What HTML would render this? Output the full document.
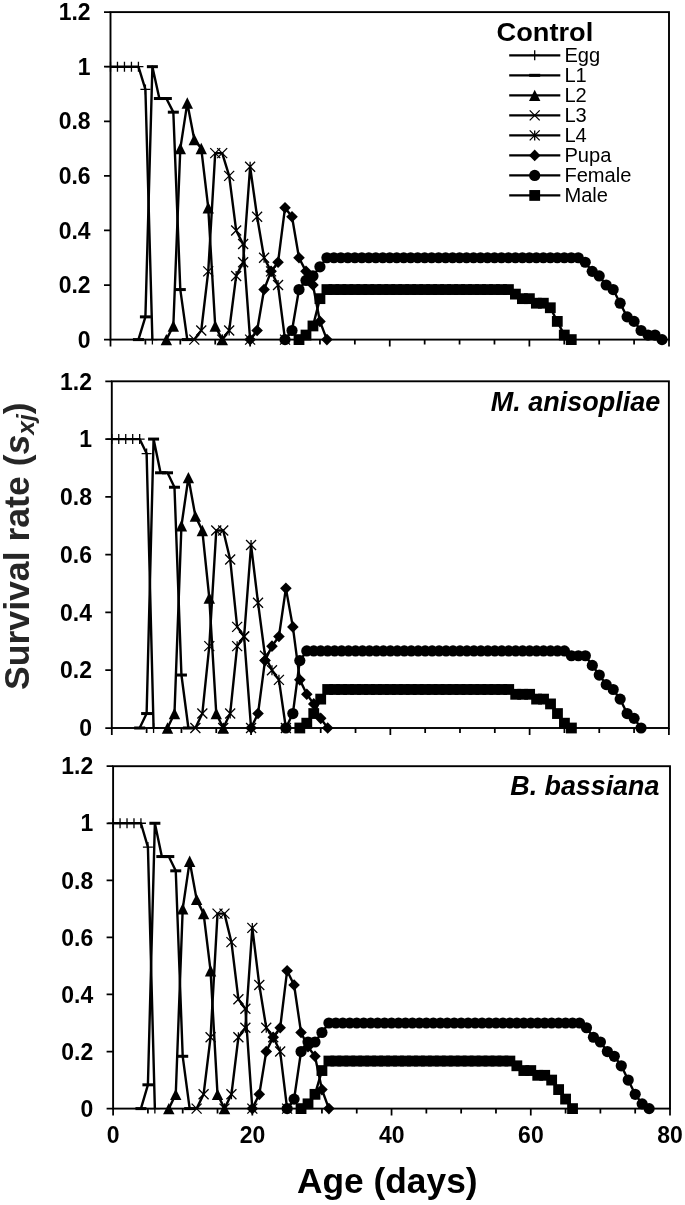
<!DOCTYPE html>
<html lang="en"><head><meta charset="utf-8"><title>Survival rate</title>
<style>html,body{margin:0;padding:0;background:#fff}svg{display:block;will-change:transform}</style></head>
<body>
<svg width="685" height="1205" viewBox="0 0 685 1205" font-family="'Liberation Sans', sans-serif" fill="#000">
<rect width="685" height="1205" fill="#fff"/>
<g><rect x="110.5" y="12.1" width="558.5" height="327.5" fill="none" stroke="#000" stroke-width="1.9"/>
<text transform="translate(90.6 347.8) scale(1.02 1.085)" font-size="22.5" font-weight="bold" text-anchor="end">0</text>
<text transform="translate(90.6 293.22) scale(1.02 1.085)" font-size="22.5" font-weight="bold" text-anchor="end">0.2</text>
<text transform="translate(90.6 238.63) scale(1.02 1.085)" font-size="22.5" font-weight="bold" text-anchor="end">0.4</text>
<text transform="translate(90.6 184.05) scale(1.02 1.085)" font-size="22.5" font-weight="bold" text-anchor="end">0.6</text>
<text transform="translate(90.6 129.47) scale(1.02 1.085)" font-size="22.5" font-weight="bold" text-anchor="end">0.8</text>
<text transform="translate(90.6 74.88) scale(1.02 1.085)" font-size="22.5" font-weight="bold" text-anchor="end">1</text>
<text transform="translate(90.6 20.3) scale(1.02 1.085)" font-size="22.5" font-weight="bold" text-anchor="end">1.2</text>
<path d="M104 339.6H110.5M104 285.02H110.5M104 230.43H110.5M104 175.85H110.5M104 121.27H110.5M104 66.68H110.5M104 12.1H110.5M110.5 339.6V346.6M145.41 339.6V344.6M180.31 339.6V344.6M215.22 339.6V344.6M250.12 339.6V346.6M285.03 339.6V344.6M319.94 339.6V344.6M354.84 339.6V344.6M389.75 339.6V346.6M424.66 339.6V344.6M459.56 339.6V344.6M494.47 339.6V344.6M529.38 339.6V346.6M564.28 339.6V344.6M599.19 339.6V344.6M634.09 339.6V344.6M669 339.6V346.6" stroke="#000" stroke-width="1.75" fill="none"/>
<polyline points="110.5,66.68 117.48,66.68 124.46,66.68 131.44,66.68 138.43,66.68 145.41,89.43 152.39,339.6" fill="none" stroke="#000" stroke-width="2.4" stroke-linejoin="round"/>
<path d="M105.5 66.68H115.5M110.5 61.68V71.68" stroke="#000" stroke-width="1.3" fill="none"/><path d="M112.48 66.68H122.48M117.48 61.68V71.68" stroke="#000" stroke-width="1.3" fill="none"/><path d="M119.46 66.68H129.46M124.46 61.68V71.68" stroke="#000" stroke-width="1.3" fill="none"/><path d="M126.44 66.68H136.44M131.44 61.68V71.68" stroke="#000" stroke-width="1.3" fill="none"/><path d="M133.43 66.68H143.43M138.43 61.68V71.68" stroke="#000" stroke-width="1.3" fill="none"/><path d="M140.41 89.43H150.41M145.41 84.43V94.43" stroke="#000" stroke-width="1.3" fill="none"/><path d="M147.39 339.6H157.39M152.39 334.6V344.6" stroke="#000" stroke-width="1.3" fill="none"/>
<polyline points="138.43,339.6 145.41,316.86 152.39,66.68 159.37,98.52 166.35,98.52 173.33,112.17 180.31,289.57 187.29,339.6" fill="none" stroke="#000" stroke-width="2.4" stroke-linejoin="round"/>
<rect x="132.93" y="338.1" width="11" height="3" fill="#000"/><rect x="139.91" y="315.36" width="11" height="3" fill="#000"/><rect x="146.89" y="65.18" width="11" height="3" fill="#000"/><rect x="153.87" y="97.02" width="11" height="3" fill="#000"/><rect x="160.85" y="97.02" width="11" height="3" fill="#000"/><rect x="167.83" y="110.67" width="11" height="3" fill="#000"/><rect x="174.81" y="288.07" width="11" height="3" fill="#000"/><rect x="181.79" y="338.1" width="11" height="3" fill="#000"/>
<polyline points="166.35,339.6 173.33,325.95 180.31,148.56 187.29,103.07 194.28,139.46 201.26,148.56 208.24,207.69 215.22,325.95 222.2,339.6" fill="none" stroke="#000" stroke-width="2.4" stroke-linejoin="round"/>
<path d="M166.35 333.9L172.05 345.3H160.65Z" fill="#000"/><path d="M173.33 320.25L179.03 331.65H167.63Z" fill="#000"/><path d="M180.31 142.86L186.01 154.26H174.61Z" fill="#000"/><path d="M187.29 97.37L192.99 108.77H181.59Z" fill="#000"/><path d="M194.28 133.76L199.97 145.16H188.58Z" fill="#000"/><path d="M201.26 142.86L206.96 154.26H195.56Z" fill="#000"/><path d="M208.24 201.99L213.94 213.39H202.54Z" fill="#000"/><path d="M215.22 320.25L220.92 331.65H209.52Z" fill="#000"/><path d="M222.2 333.9L227.9 345.3H216.5Z" fill="#000"/>
<polyline points="194.28,339.6 201.26,330.5 208.24,271.37 215.22,153.11 222.2,153.11 229.18,175.85 236.16,230.43 243.14,244.08 250.12,339.6" fill="none" stroke="#000" stroke-width="2.4" stroke-linejoin="round"/>
<path d="M189.28 334.6L199.28 344.6M189.28 344.6L199.28 334.6" stroke="#000" stroke-width="1.3" fill="none"/><path d="M196.26 325.5L206.26 335.5M196.26 335.5L206.26 325.5" stroke="#000" stroke-width="1.3" fill="none"/><path d="M203.24 266.37L213.24 276.37M203.24 276.37L213.24 266.37" stroke="#000" stroke-width="1.3" fill="none"/><path d="M210.22 148.11L220.22 158.11M210.22 158.11L220.22 148.11" stroke="#000" stroke-width="1.3" fill="none"/><path d="M217.2 148.11L227.2 158.11M217.2 158.11L227.2 148.11" stroke="#000" stroke-width="1.3" fill="none"/><path d="M224.18 170.85L234.18 180.85M224.18 180.85L234.18 170.85" stroke="#000" stroke-width="1.3" fill="none"/><path d="M231.16 225.43L241.16 235.43M231.16 235.43L241.16 225.43" stroke="#000" stroke-width="1.3" fill="none"/><path d="M238.14 239.08L248.14 249.08M238.14 249.08L248.14 239.08" stroke="#000" stroke-width="1.3" fill="none"/><path d="M245.12 334.6L255.12 344.6M245.12 344.6L255.12 334.6" stroke="#000" stroke-width="1.3" fill="none"/>
<polyline points="222.2,339.6 229.18,330.5 236.16,275.92 243.14,262.27 250.12,166.75 257.11,216.79 264.09,257.73 271.07,271.37 278.05,285.02 285.03,339.6" fill="none" stroke="#000" stroke-width="2.4" stroke-linejoin="round"/>
<path d="M217.2 334.6L227.2 344.6M217.2 344.6L227.2 334.6M222.2 334.6V344.6" stroke="#000" stroke-width="1.3" fill="none"/><path d="M224.18 325.5L234.18 335.5M224.18 335.5L234.18 325.5M229.18 325.5V335.5" stroke="#000" stroke-width="1.3" fill="none"/><path d="M231.16 270.92L241.16 280.92M231.16 280.92L241.16 270.92M236.16 270.92V280.92" stroke="#000" stroke-width="1.3" fill="none"/><path d="M238.14 257.27L248.14 267.27M238.14 267.27L248.14 257.27M243.14 257.27V267.27" stroke="#000" stroke-width="1.3" fill="none"/><path d="M245.12 161.75L255.12 171.75M245.12 171.75L255.12 161.75M250.12 161.75V171.75" stroke="#000" stroke-width="1.3" fill="none"/><path d="M252.11 211.79L262.11 221.79M252.11 221.79L262.11 211.79M257.11 211.79V221.79" stroke="#000" stroke-width="1.3" fill="none"/><path d="M259.09 252.73L269.09 262.73M259.09 262.73L269.09 252.73M264.09 252.73V262.73" stroke="#000" stroke-width="1.3" fill="none"/><path d="M266.07 266.37L276.07 276.37M266.07 276.37L276.07 266.37M271.07 266.37V276.37" stroke="#000" stroke-width="1.3" fill="none"/><path d="M273.05 280.02L283.05 290.02M273.05 290.02L283.05 280.02M278.05 280.02V290.02" stroke="#000" stroke-width="1.3" fill="none"/><path d="M280.03 334.6L290.03 344.6M280.03 344.6L290.03 334.6M285.03 334.6V344.6" stroke="#000" stroke-width="1.3" fill="none"/>
<polyline points="250.12,339.6 257.11,330.5 264.09,289.57 271.07,271.37 278.05,262.27 285.03,207.69 292.01,216.79 298.99,257.73 305.98,271.37 312.96,285.02 319.94,321.41 326.92,339.6" fill="none" stroke="#000" stroke-width="2.4" stroke-linejoin="round"/>
<path d="M250.12 333.8L255.93 339.6L250.12 345.4L244.32 339.6Z" fill="#000"/><path d="M257.11 324.7L262.91 330.5L257.11 336.3L251.31 330.5Z" fill="#000"/><path d="M264.09 283.77L269.89 289.57L264.09 295.37L258.29 289.57Z" fill="#000"/><path d="M271.07 265.57L276.87 271.37L271.07 277.17L265.27 271.37Z" fill="#000"/><path d="M278.05 256.47L283.85 262.27L278.05 268.07L272.25 262.27Z" fill="#000"/><path d="M285.03 201.89L290.83 207.69L285.03 213.49L279.23 207.69Z" fill="#000"/><path d="M292.01 210.99L297.81 216.79L292.01 222.59L286.21 216.79Z" fill="#000"/><path d="M298.99 251.93L304.79 257.73L298.99 263.53L293.19 257.73Z" fill="#000"/><path d="M305.98 265.57L311.78 271.37L305.98 277.17L300.18 271.37Z" fill="#000"/><path d="M312.96 279.22L318.76 285.02L312.96 290.82L307.16 285.02Z" fill="#000"/><path d="M319.94 315.61L325.74 321.41L319.94 327.21L314.14 321.41Z" fill="#000"/><path d="M326.92 333.8L332.72 339.6L326.92 345.4L321.12 339.6Z" fill="#000"/>
<polyline points="285.03,339.6 292.01,330.5 298.99,289.57 305.98,280.47 312.96,275.92 319.94,266.82 326.92,257.73 333.9,257.73 340.88,257.73 347.86,257.73 354.84,257.73 361.83,257.73 368.81,257.73 375.79,257.73 382.77,257.73 389.75,257.73 396.73,257.73 403.71,257.73 410.69,257.73 417.68,257.73 424.66,257.73 431.64,257.73 438.62,257.73 445.6,257.73 452.58,257.73 459.56,257.73 466.54,257.73 473.53,257.73 480.51,257.73 487.49,257.73 494.47,257.73 501.45,257.73 508.43,257.73 515.41,257.73 522.39,257.73 529.38,257.73 536.36,257.73 543.34,257.73 550.32,257.73 557.3,257.73 564.28,257.73 571.26,257.73 578.24,257.73 585.23,262.27 592.21,271.37 599.19,275.92 606.17,285.02 613.15,289.57 620.13,303.21 627.11,316.86 634.09,321.41 641.08,330.5 648.06,335.05 655.04,335.05 662.02,339.6" fill="none" stroke="#000" stroke-width="2.4" stroke-linejoin="round"/>
<circle cx="285.03" cy="339.6" r="5.6" fill="#000"/><circle cx="292.01" cy="330.5" r="5.6" fill="#000"/><circle cx="298.99" cy="289.57" r="5.6" fill="#000"/><circle cx="305.98" cy="280.47" r="5.6" fill="#000"/><circle cx="312.96" cy="275.92" r="5.6" fill="#000"/><circle cx="319.94" cy="266.82" r="5.6" fill="#000"/><circle cx="326.92" cy="257.73" r="5.6" fill="#000"/><circle cx="333.9" cy="257.73" r="5.6" fill="#000"/><circle cx="340.88" cy="257.73" r="5.6" fill="#000"/><circle cx="347.86" cy="257.73" r="5.6" fill="#000"/><circle cx="354.84" cy="257.73" r="5.6" fill="#000"/><circle cx="361.83" cy="257.73" r="5.6" fill="#000"/><circle cx="368.81" cy="257.73" r="5.6" fill="#000"/><circle cx="375.79" cy="257.73" r="5.6" fill="#000"/><circle cx="382.77" cy="257.73" r="5.6" fill="#000"/><circle cx="389.75" cy="257.73" r="5.6" fill="#000"/><circle cx="396.73" cy="257.73" r="5.6" fill="#000"/><circle cx="403.71" cy="257.73" r="5.6" fill="#000"/><circle cx="410.69" cy="257.73" r="5.6" fill="#000"/><circle cx="417.68" cy="257.73" r="5.6" fill="#000"/><circle cx="424.66" cy="257.73" r="5.6" fill="#000"/><circle cx="431.64" cy="257.73" r="5.6" fill="#000"/><circle cx="438.62" cy="257.73" r="5.6" fill="#000"/><circle cx="445.6" cy="257.73" r="5.6" fill="#000"/><circle cx="452.58" cy="257.73" r="5.6" fill="#000"/><circle cx="459.56" cy="257.73" r="5.6" fill="#000"/><circle cx="466.54" cy="257.73" r="5.6" fill="#000"/><circle cx="473.53" cy="257.73" r="5.6" fill="#000"/><circle cx="480.51" cy="257.73" r="5.6" fill="#000"/><circle cx="487.49" cy="257.73" r="5.6" fill="#000"/><circle cx="494.47" cy="257.73" r="5.6" fill="#000"/><circle cx="501.45" cy="257.73" r="5.6" fill="#000"/><circle cx="508.43" cy="257.73" r="5.6" fill="#000"/><circle cx="515.41" cy="257.73" r="5.6" fill="#000"/><circle cx="522.39" cy="257.73" r="5.6" fill="#000"/><circle cx="529.38" cy="257.73" r="5.6" fill="#000"/><circle cx="536.36" cy="257.73" r="5.6" fill="#000"/><circle cx="543.34" cy="257.73" r="5.6" fill="#000"/><circle cx="550.32" cy="257.73" r="5.6" fill="#000"/><circle cx="557.3" cy="257.73" r="5.6" fill="#000"/><circle cx="564.28" cy="257.73" r="5.6" fill="#000"/><circle cx="571.26" cy="257.73" r="5.6" fill="#000"/><circle cx="578.24" cy="257.73" r="5.6" fill="#000"/><circle cx="585.23" cy="262.27" r="5.6" fill="#000"/><circle cx="592.21" cy="271.37" r="5.6" fill="#000"/><circle cx="599.19" cy="275.92" r="5.6" fill="#000"/><circle cx="606.17" cy="285.02" r="5.6" fill="#000"/><circle cx="613.15" cy="289.57" r="5.6" fill="#000"/><circle cx="620.13" cy="303.21" r="5.6" fill="#000"/><circle cx="627.11" cy="316.86" r="5.6" fill="#000"/><circle cx="634.09" cy="321.41" r="5.6" fill="#000"/><circle cx="641.08" cy="330.5" r="5.6" fill="#000"/><circle cx="648.06" cy="335.05" r="5.6" fill="#000"/><circle cx="655.04" cy="335.05" r="5.6" fill="#000"/><circle cx="662.02" cy="339.6" r="5.6" fill="#000"/>
<polyline points="298.99,339.6 305.98,335.05 312.96,325.95 319.94,298.66 326.92,289.57 333.9,289.57 340.88,289.57 347.86,289.57 354.84,289.57 361.83,289.57 368.81,289.57 375.79,289.57 382.77,289.57 389.75,289.57 396.73,289.57 403.71,289.57 410.69,289.57 417.68,289.57 424.66,289.57 431.64,289.57 438.62,289.57 445.6,289.57 452.58,289.57 459.56,289.57 466.54,289.57 473.53,289.57 480.51,289.57 487.49,289.57 494.47,289.57 501.45,289.57 508.43,289.57 515.41,294.11 522.39,298.66 529.38,298.66 536.36,303.21 543.34,303.21 550.32,307.76 557.3,321.41 564.28,335.05 571.26,339.6" fill="none" stroke="#000" stroke-width="2.4" stroke-linejoin="round"/>
<rect x="293.59" y="334.2" width="10.8" height="10.8" fill="#000"/><rect x="300.58" y="329.65" width="10.8" height="10.8" fill="#000"/><rect x="307.56" y="320.55" width="10.8" height="10.8" fill="#000"/><rect x="314.54" y="293.26" width="10.8" height="10.8" fill="#000"/><rect x="321.52" y="284.17" width="10.8" height="10.8" fill="#000"/><rect x="328.5" y="284.17" width="10.8" height="10.8" fill="#000"/><rect x="335.48" y="284.17" width="10.8" height="10.8" fill="#000"/><rect x="342.46" y="284.17" width="10.8" height="10.8" fill="#000"/><rect x="349.44" y="284.17" width="10.8" height="10.8" fill="#000"/><rect x="356.43" y="284.17" width="10.8" height="10.8" fill="#000"/><rect x="363.41" y="284.17" width="10.8" height="10.8" fill="#000"/><rect x="370.39" y="284.17" width="10.8" height="10.8" fill="#000"/><rect x="377.37" y="284.17" width="10.8" height="10.8" fill="#000"/><rect x="384.35" y="284.17" width="10.8" height="10.8" fill="#000"/><rect x="391.33" y="284.17" width="10.8" height="10.8" fill="#000"/><rect x="398.31" y="284.17" width="10.8" height="10.8" fill="#000"/><rect x="405.29" y="284.17" width="10.8" height="10.8" fill="#000"/><rect x="412.28" y="284.17" width="10.8" height="10.8" fill="#000"/><rect x="419.26" y="284.17" width="10.8" height="10.8" fill="#000"/><rect x="426.24" y="284.17" width="10.8" height="10.8" fill="#000"/><rect x="433.22" y="284.17" width="10.8" height="10.8" fill="#000"/><rect x="440.2" y="284.17" width="10.8" height="10.8" fill="#000"/><rect x="447.18" y="284.17" width="10.8" height="10.8" fill="#000"/><rect x="454.16" y="284.17" width="10.8" height="10.8" fill="#000"/><rect x="461.14" y="284.17" width="10.8" height="10.8" fill="#000"/><rect x="468.13" y="284.17" width="10.8" height="10.8" fill="#000"/><rect x="475.11" y="284.17" width="10.8" height="10.8" fill="#000"/><rect x="482.09" y="284.17" width="10.8" height="10.8" fill="#000"/><rect x="489.07" y="284.17" width="10.8" height="10.8" fill="#000"/><rect x="496.05" y="284.17" width="10.8" height="10.8" fill="#000"/><rect x="503.03" y="284.17" width="10.8" height="10.8" fill="#000"/><rect x="510.01" y="288.71" width="10.8" height="10.8" fill="#000"/><rect x="516.99" y="293.26" width="10.8" height="10.8" fill="#000"/><rect x="523.98" y="293.26" width="10.8" height="10.8" fill="#000"/><rect x="530.96" y="297.81" width="10.8" height="10.8" fill="#000"/><rect x="537.94" y="297.81" width="10.8" height="10.8" fill="#000"/><rect x="544.92" y="302.36" width="10.8" height="10.8" fill="#000"/><rect x="551.9" y="316.01" width="10.8" height="10.8" fill="#000"/><rect x="558.88" y="329.65" width="10.8" height="10.8" fill="#000"/><rect x="565.86" y="334.2" width="10.8" height="10.8" fill="#000"/></g>
<g><rect x="111.8" y="381.3" width="557.1" height="346.7" fill="none" stroke="#000" stroke-width="1.9"/>
<text transform="translate(91.9 736.2) scale(1.02 1.085)" font-size="22.5" font-weight="bold" text-anchor="end">0</text>
<text transform="translate(91.9 678.42) scale(1.02 1.085)" font-size="22.5" font-weight="bold" text-anchor="end">0.2</text>
<text transform="translate(91.9 620.63) scale(1.02 1.085)" font-size="22.5" font-weight="bold" text-anchor="end">0.4</text>
<text transform="translate(91.9 562.85) scale(1.02 1.085)" font-size="22.5" font-weight="bold" text-anchor="end">0.6</text>
<text transform="translate(91.9 505.07) scale(1.02 1.085)" font-size="22.5" font-weight="bold" text-anchor="end">0.8</text>
<text transform="translate(91.9 447.28) scale(1.02 1.085)" font-size="22.5" font-weight="bold" text-anchor="end">1</text>
<text transform="translate(91.9 389.5) scale(1.02 1.085)" font-size="22.5" font-weight="bold" text-anchor="end">1.2</text>
<path d="M105.3 728H111.8M105.3 670.22H111.8M105.3 612.43H111.8M105.3 554.65H111.8M105.3 496.87H111.8M105.3 439.08H111.8M105.3 381.3H111.8M111.8 728V735M146.62 728V733M181.44 728V733M216.26 728V733M251.07 728V735M285.89 728V733M320.71 728V733M355.53 728V733M390.35 728V735M425.17 728V733M459.99 728V733M494.81 728V733M529.62 728V735M564.44 728V733M599.26 728V733M634.08 728V733M668.9 728V735" stroke="#000" stroke-width="1.75" fill="none"/>
<polyline points="111.8,439.08 118.76,439.08 125.73,439.08 132.69,439.08 139.66,439.08 146.62,453.53 153.58,728" fill="none" stroke="#000" stroke-width="2.4" stroke-linejoin="round"/>
<path d="M106.8 439.08H116.8M111.8 434.08V444.08" stroke="#000" stroke-width="1.3" fill="none"/><path d="M113.76 439.08H123.76M118.76 434.08V444.08" stroke="#000" stroke-width="1.3" fill="none"/><path d="M120.73 439.08H130.73M125.73 434.08V444.08" stroke="#000" stroke-width="1.3" fill="none"/><path d="M127.69 439.08H137.69M132.69 434.08V444.08" stroke="#000" stroke-width="1.3" fill="none"/><path d="M134.66 439.08H144.66M139.66 434.08V444.08" stroke="#000" stroke-width="1.3" fill="none"/><path d="M141.62 453.53H151.62M146.62 448.53V458.53" stroke="#000" stroke-width="1.3" fill="none"/><path d="M148.58 728H158.58M153.58 723V733" stroke="#000" stroke-width="1.3" fill="none"/>
<polyline points="139.66,728 146.62,713.55 153.58,439.08 160.55,472.79 167.51,472.79 174.47,487.24 181.44,675.03 188.4,728" fill="none" stroke="#000" stroke-width="2.4" stroke-linejoin="round"/>
<rect x="134.16" y="726.5" width="11" height="3" fill="#000"/><rect x="141.12" y="712.05" width="11" height="3" fill="#000"/><rect x="148.08" y="437.58" width="11" height="3" fill="#000"/><rect x="155.05" y="471.29" width="11" height="3" fill="#000"/><rect x="162.01" y="471.29" width="11" height="3" fill="#000"/><rect x="168.97" y="485.74" width="11" height="3" fill="#000"/><rect x="175.94" y="673.53" width="11" height="3" fill="#000"/><rect x="182.9" y="726.5" width="11" height="3" fill="#000"/>
<polyline points="167.51,728 174.47,713.55 181.44,525.76 188.4,477.61 195.37,516.13 202.33,530.57 209.29,597.99 216.26,713.55 223.22,728" fill="none" stroke="#000" stroke-width="2.4" stroke-linejoin="round"/>
<path d="M167.51 722.3L173.21 733.7H161.81Z" fill="#000"/><path d="M174.47 707.85L180.17 719.25H168.77Z" fill="#000"/><path d="M181.44 520.06L187.14 531.46H175.74Z" fill="#000"/><path d="M188.4 471.91L194.1 483.31H182.7Z" fill="#000"/><path d="M195.37 510.43L201.06 521.83H189.67Z" fill="#000"/><path d="M202.33 524.87L208.03 536.27H196.63Z" fill="#000"/><path d="M209.29 592.29L214.99 603.69H203.59Z" fill="#000"/><path d="M216.26 707.85L221.96 719.25H210.56Z" fill="#000"/><path d="M223.22 722.3L228.92 733.7H217.52Z" fill="#000"/>
<polyline points="195.37,728 202.33,713.55 209.29,646.14 216.26,530.57 223.22,530.57 230.18,559.47 237.15,626.88 244.11,636.51 251.07,728" fill="none" stroke="#000" stroke-width="2.4" stroke-linejoin="round"/>
<path d="M190.37 723L200.37 733M190.37 733L200.37 723" stroke="#000" stroke-width="1.3" fill="none"/><path d="M197.33 708.55L207.33 718.55M197.33 718.55L207.33 708.55" stroke="#000" stroke-width="1.3" fill="none"/><path d="M204.29 641.14L214.29 651.14M204.29 651.14L214.29 641.14" stroke="#000" stroke-width="1.3" fill="none"/><path d="M211.26 525.57L221.26 535.57M211.26 535.57L221.26 525.57" stroke="#000" stroke-width="1.3" fill="none"/><path d="M218.22 525.57L228.22 535.57M218.22 535.57L228.22 525.57" stroke="#000" stroke-width="1.3" fill="none"/><path d="M225.18 554.47L235.18 564.47M225.18 564.47L235.18 554.47" stroke="#000" stroke-width="1.3" fill="none"/><path d="M232.15 621.88L242.15 631.88M232.15 631.88L242.15 621.88" stroke="#000" stroke-width="1.3" fill="none"/><path d="M239.11 631.51L249.11 641.51M239.11 641.51L249.11 631.51" stroke="#000" stroke-width="1.3" fill="none"/><path d="M246.07 723L256.07 733M246.07 733L256.07 723" stroke="#000" stroke-width="1.3" fill="none"/>
<polyline points="223.22,728 230.18,713.55 237.15,646.14 244.11,636.51 251.07,545.02 258.04,602.8 265,655.77 271.97,670.22 278.93,679.85 285.89,728" fill="none" stroke="#000" stroke-width="2.4" stroke-linejoin="round"/>
<path d="M218.22 723L228.22 733M218.22 733L228.22 723M223.22 723V733" stroke="#000" stroke-width="1.3" fill="none"/><path d="M225.18 708.55L235.18 718.55M225.18 718.55L235.18 708.55M230.18 708.55V718.55" stroke="#000" stroke-width="1.3" fill="none"/><path d="M232.15 641.14L242.15 651.14M232.15 651.14L242.15 641.14M237.15 641.14V651.14" stroke="#000" stroke-width="1.3" fill="none"/><path d="M239.11 631.51L249.11 641.51M239.11 641.51L249.11 631.51M244.11 631.51V641.51" stroke="#000" stroke-width="1.3" fill="none"/><path d="M246.07 540.02L256.07 550.02M246.07 550.02L256.07 540.02M251.07 540.02V550.02" stroke="#000" stroke-width="1.3" fill="none"/><path d="M253.04 597.8L263.04 607.8M253.04 607.8L263.04 597.8M258.04 597.8V607.8" stroke="#000" stroke-width="1.3" fill="none"/><path d="M260 650.77L270 660.77M260 660.77L270 650.77M265 650.77V660.77" stroke="#000" stroke-width="1.3" fill="none"/><path d="M266.97 665.22L276.97 675.22M266.97 675.22L276.97 665.22M271.97 665.22V675.22" stroke="#000" stroke-width="1.3" fill="none"/><path d="M273.93 674.85L283.93 684.85M273.93 684.85L283.93 674.85M278.93 674.85V684.85" stroke="#000" stroke-width="1.3" fill="none"/><path d="M280.89 723L290.89 733M280.89 733L290.89 723M285.89 723V733" stroke="#000" stroke-width="1.3" fill="none"/>
<polyline points="251.07,728 258.04,713.55 265,660.59 271.97,646.14 278.93,636.51 285.89,588.36 292.86,626.88 299.82,679.85 306.79,694.29 313.75,703.92 320.71,718.37 327.68,728" fill="none" stroke="#000" stroke-width="2.4" stroke-linejoin="round"/>
<path d="M251.07 722.2L256.88 728L251.07 733.8L245.27 728Z" fill="#000"/><path d="M258.04 707.75L263.84 713.55L258.04 719.35L252.24 713.55Z" fill="#000"/><path d="M265 654.79L270.8 660.59L265 666.39L259.2 660.59Z" fill="#000"/><path d="M271.97 640.34L277.77 646.14L271.97 651.94L266.17 646.14Z" fill="#000"/><path d="M278.93 630.71L284.73 636.51L278.93 642.31L273.13 636.51Z" fill="#000"/><path d="M285.89 582.56L291.69 588.36L285.89 594.16L280.09 588.36Z" fill="#000"/><path d="M292.86 621.08L298.66 626.88L292.86 632.68L287.06 626.88Z" fill="#000"/><path d="M299.82 674.05L305.62 679.85L299.82 685.65L294.02 679.85Z" fill="#000"/><path d="M306.79 688.49L312.59 694.29L306.79 700.09L300.99 694.29Z" fill="#000"/><path d="M313.75 698.12L319.55 703.92L313.75 709.72L307.95 703.92Z" fill="#000"/><path d="M320.71 712.57L326.51 718.37L320.71 724.17L314.91 718.37Z" fill="#000"/><path d="M327.68 722.2L333.48 728L327.68 733.8L321.88 728Z" fill="#000"/>
<polyline points="285.89,728 292.86,713.55 299.82,660.59 306.79,650.96 313.75,650.96 320.71,650.96 327.68,650.96 334.64,650.96 341.6,650.96 348.57,650.96 355.53,650.96 362.5,650.96 369.46,650.96 376.42,650.96 383.39,650.96 390.35,650.96 397.31,650.96 404.28,650.96 411.24,650.96 418.21,650.96 425.17,650.96 432.13,650.96 439.1,650.96 446.06,650.96 453.02,650.96 459.99,650.96 466.95,650.96 473.92,650.96 480.88,650.96 487.84,650.96 494.81,650.96 501.77,650.96 508.73,650.96 515.7,650.96 522.66,650.96 529.62,650.96 536.59,650.96 543.55,650.96 550.52,650.96 557.48,650.96 564.44,650.96 571.41,655.77 578.37,655.77 585.34,655.77 592.3,665.4 599.26,675.03 606.23,684.66 613.19,689.48 620.15,699.11 627.12,713.55 634.08,718.37 641.04,728" fill="none" stroke="#000" stroke-width="2.4" stroke-linejoin="round"/>
<circle cx="285.89" cy="728" r="5.6" fill="#000"/><circle cx="292.86" cy="713.55" r="5.6" fill="#000"/><circle cx="299.82" cy="660.59" r="5.6" fill="#000"/><circle cx="306.79" cy="650.96" r="5.6" fill="#000"/><circle cx="313.75" cy="650.96" r="5.6" fill="#000"/><circle cx="320.71" cy="650.96" r="5.6" fill="#000"/><circle cx="327.68" cy="650.96" r="5.6" fill="#000"/><circle cx="334.64" cy="650.96" r="5.6" fill="#000"/><circle cx="341.6" cy="650.96" r="5.6" fill="#000"/><circle cx="348.57" cy="650.96" r="5.6" fill="#000"/><circle cx="355.53" cy="650.96" r="5.6" fill="#000"/><circle cx="362.5" cy="650.96" r="5.6" fill="#000"/><circle cx="369.46" cy="650.96" r="5.6" fill="#000"/><circle cx="376.42" cy="650.96" r="5.6" fill="#000"/><circle cx="383.39" cy="650.96" r="5.6" fill="#000"/><circle cx="390.35" cy="650.96" r="5.6" fill="#000"/><circle cx="397.31" cy="650.96" r="5.6" fill="#000"/><circle cx="404.28" cy="650.96" r="5.6" fill="#000"/><circle cx="411.24" cy="650.96" r="5.6" fill="#000"/><circle cx="418.21" cy="650.96" r="5.6" fill="#000"/><circle cx="425.17" cy="650.96" r="5.6" fill="#000"/><circle cx="432.13" cy="650.96" r="5.6" fill="#000"/><circle cx="439.1" cy="650.96" r="5.6" fill="#000"/><circle cx="446.06" cy="650.96" r="5.6" fill="#000"/><circle cx="453.02" cy="650.96" r="5.6" fill="#000"/><circle cx="459.99" cy="650.96" r="5.6" fill="#000"/><circle cx="466.95" cy="650.96" r="5.6" fill="#000"/><circle cx="473.92" cy="650.96" r="5.6" fill="#000"/><circle cx="480.88" cy="650.96" r="5.6" fill="#000"/><circle cx="487.84" cy="650.96" r="5.6" fill="#000"/><circle cx="494.81" cy="650.96" r="5.6" fill="#000"/><circle cx="501.77" cy="650.96" r="5.6" fill="#000"/><circle cx="508.73" cy="650.96" r="5.6" fill="#000"/><circle cx="515.7" cy="650.96" r="5.6" fill="#000"/><circle cx="522.66" cy="650.96" r="5.6" fill="#000"/><circle cx="529.62" cy="650.96" r="5.6" fill="#000"/><circle cx="536.59" cy="650.96" r="5.6" fill="#000"/><circle cx="543.55" cy="650.96" r="5.6" fill="#000"/><circle cx="550.52" cy="650.96" r="5.6" fill="#000"/><circle cx="557.48" cy="650.96" r="5.6" fill="#000"/><circle cx="564.44" cy="650.96" r="5.6" fill="#000"/><circle cx="571.41" cy="655.77" r="5.6" fill="#000"/><circle cx="578.37" cy="655.77" r="5.6" fill="#000"/><circle cx="585.34" cy="655.77" r="5.6" fill="#000"/><circle cx="592.3" cy="665.4" r="5.6" fill="#000"/><circle cx="599.26" cy="675.03" r="5.6" fill="#000"/><circle cx="606.23" cy="684.66" r="5.6" fill="#000"/><circle cx="613.19" cy="689.48" r="5.6" fill="#000"/><circle cx="620.15" cy="699.11" r="5.6" fill="#000"/><circle cx="627.12" cy="713.55" r="5.6" fill="#000"/><circle cx="634.08" cy="718.37" r="5.6" fill="#000"/><circle cx="641.04" cy="728" r="5.6" fill="#000"/>
<polyline points="299.82,728 306.79,723.18 313.75,713.55 320.71,699.11 327.68,689.48 334.64,689.48 341.6,689.48 348.57,689.48 355.53,689.48 362.5,689.48 369.46,689.48 376.42,689.48 383.39,689.48 390.35,689.48 397.31,689.48 404.28,689.48 411.24,689.48 418.21,689.48 425.17,689.48 432.13,689.48 439.1,689.48 446.06,689.48 453.02,689.48 459.99,689.48 466.95,689.48 473.92,689.48 480.88,689.48 487.84,689.48 494.81,689.48 501.77,689.48 508.73,689.48 515.7,694.29 522.66,694.29 529.62,694.29 536.59,699.11 543.55,699.11 550.52,703.92 557.48,713.55 564.44,723.18 571.41,728" fill="none" stroke="#000" stroke-width="2.4" stroke-linejoin="round"/>
<rect x="294.42" y="722.6" width="10.8" height="10.8" fill="#000"/><rect x="301.39" y="717.78" width="10.8" height="10.8" fill="#000"/><rect x="308.35" y="708.15" width="10.8" height="10.8" fill="#000"/><rect x="315.31" y="693.71" width="10.8" height="10.8" fill="#000"/><rect x="322.28" y="684.08" width="10.8" height="10.8" fill="#000"/><rect x="329.24" y="684.08" width="10.8" height="10.8" fill="#000"/><rect x="336.2" y="684.08" width="10.8" height="10.8" fill="#000"/><rect x="343.17" y="684.08" width="10.8" height="10.8" fill="#000"/><rect x="350.13" y="684.08" width="10.8" height="10.8" fill="#000"/><rect x="357.1" y="684.08" width="10.8" height="10.8" fill="#000"/><rect x="364.06" y="684.08" width="10.8" height="10.8" fill="#000"/><rect x="371.02" y="684.08" width="10.8" height="10.8" fill="#000"/><rect x="377.99" y="684.08" width="10.8" height="10.8" fill="#000"/><rect x="384.95" y="684.08" width="10.8" height="10.8" fill="#000"/><rect x="391.91" y="684.08" width="10.8" height="10.8" fill="#000"/><rect x="398.88" y="684.08" width="10.8" height="10.8" fill="#000"/><rect x="405.84" y="684.08" width="10.8" height="10.8" fill="#000"/><rect x="412.81" y="684.08" width="10.8" height="10.8" fill="#000"/><rect x="419.77" y="684.08" width="10.8" height="10.8" fill="#000"/><rect x="426.73" y="684.08" width="10.8" height="10.8" fill="#000"/><rect x="433.7" y="684.08" width="10.8" height="10.8" fill="#000"/><rect x="440.66" y="684.08" width="10.8" height="10.8" fill="#000"/><rect x="447.62" y="684.08" width="10.8" height="10.8" fill="#000"/><rect x="454.59" y="684.08" width="10.8" height="10.8" fill="#000"/><rect x="461.55" y="684.08" width="10.8" height="10.8" fill="#000"/><rect x="468.52" y="684.08" width="10.8" height="10.8" fill="#000"/><rect x="475.48" y="684.08" width="10.8" height="10.8" fill="#000"/><rect x="482.44" y="684.08" width="10.8" height="10.8" fill="#000"/><rect x="489.41" y="684.08" width="10.8" height="10.8" fill="#000"/><rect x="496.37" y="684.08" width="10.8" height="10.8" fill="#000"/><rect x="503.33" y="684.08" width="10.8" height="10.8" fill="#000"/><rect x="510.3" y="688.89" width="10.8" height="10.8" fill="#000"/><rect x="517.26" y="688.89" width="10.8" height="10.8" fill="#000"/><rect x="524.23" y="688.89" width="10.8" height="10.8" fill="#000"/><rect x="531.19" y="693.71" width="10.8" height="10.8" fill="#000"/><rect x="538.15" y="693.71" width="10.8" height="10.8" fill="#000"/><rect x="545.12" y="698.52" width="10.8" height="10.8" fill="#000"/><rect x="552.08" y="708.15" width="10.8" height="10.8" fill="#000"/><rect x="559.04" y="717.78" width="10.8" height="10.8" fill="#000"/><rect x="566.01" y="722.6" width="10.8" height="10.8" fill="#000"/></g>
<g><rect x="113.1" y="766.2" width="556.9" height="342.4" fill="none" stroke="#000" stroke-width="1.9"/>
<text transform="translate(93.2 1116.8) scale(1.02 1.085)" font-size="22.5" font-weight="bold" text-anchor="end">0</text>
<text transform="translate(93.2 1059.73) scale(1.02 1.085)" font-size="22.5" font-weight="bold" text-anchor="end">0.2</text>
<text transform="translate(93.2 1002.67) scale(1.02 1.085)" font-size="22.5" font-weight="bold" text-anchor="end">0.4</text>
<text transform="translate(93.2 945.6) scale(1.02 1.085)" font-size="22.5" font-weight="bold" text-anchor="end">0.6</text>
<text transform="translate(93.2 888.53) scale(1.02 1.085)" font-size="22.5" font-weight="bold" text-anchor="end">0.8</text>
<text transform="translate(93.2 831.47) scale(1.02 1.085)" font-size="22.5" font-weight="bold" text-anchor="end">1</text>
<text transform="translate(93.2 774.4) scale(1.02 1.085)" font-size="22.5" font-weight="bold" text-anchor="end">1.2</text>
<path d="M106.6 1108.6H113.1M106.6 1051.53H113.1M106.6 994.47H113.1M106.6 937.4H113.1M106.6 880.33H113.1M106.6 823.27H113.1M106.6 766.2H113.1M113.1 1108.6V1115.6M147.91 1108.6V1113.6M182.71 1108.6V1113.6M217.52 1108.6V1113.6M252.32 1108.6V1115.6M287.13 1108.6V1113.6M321.94 1108.6V1113.6M356.74 1108.6V1113.6M391.55 1108.6V1115.6M426.36 1108.6V1113.6M461.16 1108.6V1113.6M495.97 1108.6V1113.6M530.77 1108.6V1115.6M565.58 1108.6V1113.6M600.39 1108.6V1113.6M635.19 1108.6V1113.6M670 1108.6V1115.6" stroke="#000" stroke-width="1.75" fill="none"/>
<polyline points="113.1,823.27 120.06,823.27 127.02,823.27 133.98,823.27 140.94,823.27 147.91,847.04 154.87,1108.6" fill="none" stroke="#000" stroke-width="2.4" stroke-linejoin="round"/>
<path d="M108.1 823.27H118.1M113.1 818.27V828.27" stroke="#000" stroke-width="1.3" fill="none"/><path d="M115.06 823.27H125.06M120.06 818.27V828.27" stroke="#000" stroke-width="1.3" fill="none"/><path d="M122.02 823.27H132.02M127.02 818.27V828.27" stroke="#000" stroke-width="1.3" fill="none"/><path d="M128.98 823.27H138.98M133.98 818.27V828.27" stroke="#000" stroke-width="1.3" fill="none"/><path d="M135.94 823.27H145.94M140.94 818.27V828.27" stroke="#000" stroke-width="1.3" fill="none"/><path d="M142.91 847.04H152.91M147.91 842.04V852.04" stroke="#000" stroke-width="1.3" fill="none"/><path d="M149.87 1108.6H159.87M154.87 1103.6V1113.6" stroke="#000" stroke-width="1.3" fill="none"/>
<polyline points="140.94,1108.6 147.91,1084.82 154.87,823.27 161.83,856.56 168.79,856.56 175.75,870.82 182.71,1056.29 189.67,1108.6" fill="none" stroke="#000" stroke-width="2.4" stroke-linejoin="round"/>
<rect x="135.44" y="1107.1" width="11" height="3" fill="#000"/><rect x="142.41" y="1083.32" width="11" height="3" fill="#000"/><rect x="149.37" y="821.77" width="11" height="3" fill="#000"/><rect x="156.33" y="855.06" width="11" height="3" fill="#000"/><rect x="163.29" y="855.06" width="11" height="3" fill="#000"/><rect x="170.25" y="869.32" width="11" height="3" fill="#000"/><rect x="177.21" y="1054.79" width="11" height="3" fill="#000"/><rect x="184.17" y="1107.1" width="11" height="3" fill="#000"/>
<polyline points="168.79,1108.6 175.75,1094.33 182.71,908.87 189.67,861.31 196.63,899.36 203.6,913.62 210.56,970.69 217.52,1094.33 224.48,1108.6" fill="none" stroke="#000" stroke-width="2.4" stroke-linejoin="round"/>
<path d="M168.79 1102.9L174.49 1114.3H163.09Z" fill="#000"/><path d="M175.75 1088.63L181.45 1100.03H170.05Z" fill="#000"/><path d="M182.71 903.17L188.41 914.57H177.01Z" fill="#000"/><path d="M189.67 855.61L195.37 867.01H183.97Z" fill="#000"/><path d="M196.63 893.66L202.33 905.06H190.94Z" fill="#000"/><path d="M203.6 907.92L209.3 919.32H197.9Z" fill="#000"/><path d="M210.56 964.99L216.26 976.39H204.86Z" fill="#000"/><path d="M217.52 1088.63L223.22 1100.03H211.82Z" fill="#000"/><path d="M224.48 1102.9L230.18 1114.3H218.78Z" fill="#000"/>
<polyline points="196.63,1108.6 203.6,1094.33 210.56,1037.27 217.52,913.62 224.48,913.62 231.44,942.16 238.4,999.22 245.36,1008.73 252.32,1108.6" fill="none" stroke="#000" stroke-width="2.4" stroke-linejoin="round"/>
<path d="M191.63 1103.6L201.63 1113.6M191.63 1113.6L201.63 1103.6" stroke="#000" stroke-width="1.3" fill="none"/><path d="M198.6 1089.33L208.6 1099.33M198.6 1099.33L208.6 1089.33" stroke="#000" stroke-width="1.3" fill="none"/><path d="M205.56 1032.27L215.56 1042.27M205.56 1042.27L215.56 1032.27" stroke="#000" stroke-width="1.3" fill="none"/><path d="M212.52 908.62L222.52 918.62M212.52 918.62L222.52 908.62" stroke="#000" stroke-width="1.3" fill="none"/><path d="M219.48 908.62L229.48 918.62M219.48 918.62L229.48 908.62" stroke="#000" stroke-width="1.3" fill="none"/><path d="M226.44 937.16L236.44 947.16M226.44 947.16L236.44 937.16" stroke="#000" stroke-width="1.3" fill="none"/><path d="M233.4 994.22L243.4 1004.22M233.4 1004.22L243.4 994.22" stroke="#000" stroke-width="1.3" fill="none"/><path d="M240.36 1003.73L250.36 1013.73M240.36 1013.73L250.36 1003.73" stroke="#000" stroke-width="1.3" fill="none"/><path d="M247.32 1103.6L257.32 1113.6M247.32 1113.6L257.32 1103.6" stroke="#000" stroke-width="1.3" fill="none"/>
<polyline points="224.48,1108.6 231.44,1094.33 238.4,1037.27 245.36,1027.76 252.32,927.89 259.29,984.96 266.25,1027.76 273.21,1037.27 280.17,1051.53 287.13,1108.6" fill="none" stroke="#000" stroke-width="2.4" stroke-linejoin="round"/>
<path d="M219.48 1103.6L229.48 1113.6M219.48 1113.6L229.48 1103.6M224.48 1103.6V1113.6" stroke="#000" stroke-width="1.3" fill="none"/><path d="M226.44 1089.33L236.44 1099.33M226.44 1099.33L236.44 1089.33M231.44 1089.33V1099.33" stroke="#000" stroke-width="1.3" fill="none"/><path d="M233.4 1032.27L243.4 1042.27M233.4 1042.27L243.4 1032.27M238.4 1032.27V1042.27" stroke="#000" stroke-width="1.3" fill="none"/><path d="M240.36 1022.76L250.36 1032.76M240.36 1032.76L250.36 1022.76M245.36 1022.76V1032.76" stroke="#000" stroke-width="1.3" fill="none"/><path d="M247.32 922.89L257.32 932.89M247.32 932.89L257.32 922.89M252.32 922.89V932.89" stroke="#000" stroke-width="1.3" fill="none"/><path d="M254.29 979.96L264.29 989.96M254.29 989.96L264.29 979.96M259.29 979.96V989.96" stroke="#000" stroke-width="1.3" fill="none"/><path d="M261.25 1022.76L271.25 1032.76M261.25 1032.76L271.25 1022.76M266.25 1022.76V1032.76" stroke="#000" stroke-width="1.3" fill="none"/><path d="M268.21 1032.27L278.21 1042.27M268.21 1042.27L278.21 1032.27M273.21 1032.27V1042.27" stroke="#000" stroke-width="1.3" fill="none"/><path d="M275.17 1046.53L285.17 1056.53M275.17 1056.53L285.17 1046.53M280.17 1046.53V1056.53" stroke="#000" stroke-width="1.3" fill="none"/><path d="M282.13 1103.6L292.13 1113.6M282.13 1113.6L292.13 1103.6M287.13 1103.6V1113.6" stroke="#000" stroke-width="1.3" fill="none"/>
<polyline points="252.32,1108.6 259.29,1094.33 266.25,1051.53 273.21,1037.27 280.17,1027.76 287.13,970.69 294.09,984.96 301.05,1032.51 308.01,1046.78 314.98,1056.29 321.94,1089.58 328.9,1108.6" fill="none" stroke="#000" stroke-width="2.4" stroke-linejoin="round"/>
<path d="M252.32 1102.8L258.12 1108.6L252.32 1114.4L246.52 1108.6Z" fill="#000"/><path d="M259.29 1088.53L265.09 1094.33L259.29 1100.13L253.49 1094.33Z" fill="#000"/><path d="M266.25 1045.73L272.05 1051.53L266.25 1057.33L260.45 1051.53Z" fill="#000"/><path d="M273.21 1031.47L279.01 1037.27L273.21 1043.07L267.41 1037.27Z" fill="#000"/><path d="M280.17 1021.96L285.97 1027.76L280.17 1033.56L274.37 1027.76Z" fill="#000"/><path d="M287.13 964.89L292.93 970.69L287.13 976.49L281.33 970.69Z" fill="#000"/><path d="M294.09 979.16L299.89 984.96L294.09 990.76L288.29 984.96Z" fill="#000"/><path d="M301.05 1026.71L306.85 1032.51L301.05 1038.31L295.25 1032.51Z" fill="#000"/><path d="M308.01 1040.98L313.81 1046.78L308.01 1052.58L302.21 1046.78Z" fill="#000"/><path d="M314.98 1050.49L320.78 1056.29L314.98 1062.09L309.18 1056.29Z" fill="#000"/><path d="M321.94 1083.78L327.74 1089.58L321.94 1095.38L316.14 1089.58Z" fill="#000"/><path d="M328.9 1102.8L334.7 1108.6L328.9 1114.4L323.1 1108.6Z" fill="#000"/>
<polyline points="287.13,1108.6 294.09,1099.09 301.05,1051.53 308.01,1042.02 314.98,1042.02 321.94,1032.51 328.9,1023 335.86,1023 342.82,1023 349.78,1023 356.74,1023 363.7,1023 370.67,1023 377.63,1023 384.59,1023 391.55,1023 398.51,1023 405.47,1023 412.43,1023 419.39,1023 426.36,1023 433.32,1023 440.28,1023 447.24,1023 454.2,1023 461.16,1023 468.12,1023 475.09,1023 482.05,1023 489.01,1023 495.97,1023 502.93,1023 509.89,1023 516.85,1023 523.81,1023 530.77,1023 537.74,1023 544.7,1023 551.66,1023 558.62,1023 565.58,1023 572.54,1023 579.5,1023 586.47,1027.76 593.43,1037.27 600.39,1042.02 607.35,1051.53 614.31,1056.29 621.27,1065.8 628.23,1080.07 635.19,1094.33 642.15,1103.84 649.12,1108.6" fill="none" stroke="#000" stroke-width="2.4" stroke-linejoin="round"/>
<circle cx="287.13" cy="1108.6" r="5.6" fill="#000"/><circle cx="294.09" cy="1099.09" r="5.6" fill="#000"/><circle cx="301.05" cy="1051.53" r="5.6" fill="#000"/><circle cx="308.01" cy="1042.02" r="5.6" fill="#000"/><circle cx="314.98" cy="1042.02" r="5.6" fill="#000"/><circle cx="321.94" cy="1032.51" r="5.6" fill="#000"/><circle cx="328.9" cy="1023" r="5.6" fill="#000"/><circle cx="335.86" cy="1023" r="5.6" fill="#000"/><circle cx="342.82" cy="1023" r="5.6" fill="#000"/><circle cx="349.78" cy="1023" r="5.6" fill="#000"/><circle cx="356.74" cy="1023" r="5.6" fill="#000"/><circle cx="363.7" cy="1023" r="5.6" fill="#000"/><circle cx="370.67" cy="1023" r="5.6" fill="#000"/><circle cx="377.63" cy="1023" r="5.6" fill="#000"/><circle cx="384.59" cy="1023" r="5.6" fill="#000"/><circle cx="391.55" cy="1023" r="5.6" fill="#000"/><circle cx="398.51" cy="1023" r="5.6" fill="#000"/><circle cx="405.47" cy="1023" r="5.6" fill="#000"/><circle cx="412.43" cy="1023" r="5.6" fill="#000"/><circle cx="419.39" cy="1023" r="5.6" fill="#000"/><circle cx="426.36" cy="1023" r="5.6" fill="#000"/><circle cx="433.32" cy="1023" r="5.6" fill="#000"/><circle cx="440.28" cy="1023" r="5.6" fill="#000"/><circle cx="447.24" cy="1023" r="5.6" fill="#000"/><circle cx="454.2" cy="1023" r="5.6" fill="#000"/><circle cx="461.16" cy="1023" r="5.6" fill="#000"/><circle cx="468.12" cy="1023" r="5.6" fill="#000"/><circle cx="475.09" cy="1023" r="5.6" fill="#000"/><circle cx="482.05" cy="1023" r="5.6" fill="#000"/><circle cx="489.01" cy="1023" r="5.6" fill="#000"/><circle cx="495.97" cy="1023" r="5.6" fill="#000"/><circle cx="502.93" cy="1023" r="5.6" fill="#000"/><circle cx="509.89" cy="1023" r="5.6" fill="#000"/><circle cx="516.85" cy="1023" r="5.6" fill="#000"/><circle cx="523.81" cy="1023" r="5.6" fill="#000"/><circle cx="530.77" cy="1023" r="5.6" fill="#000"/><circle cx="537.74" cy="1023" r="5.6" fill="#000"/><circle cx="544.7" cy="1023" r="5.6" fill="#000"/><circle cx="551.66" cy="1023" r="5.6" fill="#000"/><circle cx="558.62" cy="1023" r="5.6" fill="#000"/><circle cx="565.58" cy="1023" r="5.6" fill="#000"/><circle cx="572.54" cy="1023" r="5.6" fill="#000"/><circle cx="579.5" cy="1023" r="5.6" fill="#000"/><circle cx="586.47" cy="1027.76" r="5.6" fill="#000"/><circle cx="593.43" cy="1037.27" r="5.6" fill="#000"/><circle cx="600.39" cy="1042.02" r="5.6" fill="#000"/><circle cx="607.35" cy="1051.53" r="5.6" fill="#000"/><circle cx="614.31" cy="1056.29" r="5.6" fill="#000"/><circle cx="621.27" cy="1065.8" r="5.6" fill="#000"/><circle cx="628.23" cy="1080.07" r="5.6" fill="#000"/><circle cx="635.19" cy="1094.33" r="5.6" fill="#000"/><circle cx="642.15" cy="1103.84" r="5.6" fill="#000"/><circle cx="649.12" cy="1108.6" r="5.6" fill="#000"/>
<polyline points="301.05,1108.6 308.01,1103.84 314.98,1094.33 321.94,1070.56 328.9,1061.04 335.86,1061.04 342.82,1061.04 349.78,1061.04 356.74,1061.04 363.7,1061.04 370.67,1061.04 377.63,1061.04 384.59,1061.04 391.55,1061.04 398.51,1061.04 405.47,1061.04 412.43,1061.04 419.39,1061.04 426.36,1061.04 433.32,1061.04 440.28,1061.04 447.24,1061.04 454.2,1061.04 461.16,1061.04 468.12,1061.04 475.09,1061.04 482.05,1061.04 489.01,1061.04 495.97,1061.04 502.93,1061.04 509.89,1061.04 516.85,1065.8 523.81,1070.56 530.77,1070.56 537.74,1075.31 544.7,1075.31 551.66,1080.07 558.62,1089.58 565.58,1099.09 572.54,1108.6" fill="none" stroke="#000" stroke-width="2.4" stroke-linejoin="round"/>
<rect x="295.65" y="1103.2" width="10.8" height="10.8" fill="#000"/><rect x="302.62" y="1098.44" width="10.8" height="10.8" fill="#000"/><rect x="309.58" y="1088.93" width="10.8" height="10.8" fill="#000"/><rect x="316.54" y="1065.16" width="10.8" height="10.8" fill="#000"/><rect x="323.5" y="1055.64" width="10.8" height="10.8" fill="#000"/><rect x="330.46" y="1055.64" width="10.8" height="10.8" fill="#000"/><rect x="337.42" y="1055.64" width="10.8" height="10.8" fill="#000"/><rect x="344.38" y="1055.64" width="10.8" height="10.8" fill="#000"/><rect x="351.34" y="1055.64" width="10.8" height="10.8" fill="#000"/><rect x="358.31" y="1055.64" width="10.8" height="10.8" fill="#000"/><rect x="365.27" y="1055.64" width="10.8" height="10.8" fill="#000"/><rect x="372.23" y="1055.64" width="10.8" height="10.8" fill="#000"/><rect x="379.19" y="1055.64" width="10.8" height="10.8" fill="#000"/><rect x="386.15" y="1055.64" width="10.8" height="10.8" fill="#000"/><rect x="393.11" y="1055.64" width="10.8" height="10.8" fill="#000"/><rect x="400.07" y="1055.64" width="10.8" height="10.8" fill="#000"/><rect x="407.03" y="1055.64" width="10.8" height="10.8" fill="#000"/><rect x="414" y="1055.64" width="10.8" height="10.8" fill="#000"/><rect x="420.96" y="1055.64" width="10.8" height="10.8" fill="#000"/><rect x="427.92" y="1055.64" width="10.8" height="10.8" fill="#000"/><rect x="434.88" y="1055.64" width="10.8" height="10.8" fill="#000"/><rect x="441.84" y="1055.64" width="10.8" height="10.8" fill="#000"/><rect x="448.8" y="1055.64" width="10.8" height="10.8" fill="#000"/><rect x="455.76" y="1055.64" width="10.8" height="10.8" fill="#000"/><rect x="462.72" y="1055.64" width="10.8" height="10.8" fill="#000"/><rect x="469.69" y="1055.64" width="10.8" height="10.8" fill="#000"/><rect x="476.65" y="1055.64" width="10.8" height="10.8" fill="#000"/><rect x="483.61" y="1055.64" width="10.8" height="10.8" fill="#000"/><rect x="490.57" y="1055.64" width="10.8" height="10.8" fill="#000"/><rect x="497.53" y="1055.64" width="10.8" height="10.8" fill="#000"/><rect x="504.49" y="1055.64" width="10.8" height="10.8" fill="#000"/><rect x="511.45" y="1060.4" width="10.8" height="10.8" fill="#000"/><rect x="518.41" y="1065.16" width="10.8" height="10.8" fill="#000"/><rect x="525.38" y="1065.16" width="10.8" height="10.8" fill="#000"/><rect x="532.34" y="1069.91" width="10.8" height="10.8" fill="#000"/><rect x="539.3" y="1069.91" width="10.8" height="10.8" fill="#000"/><rect x="546.26" y="1074.67" width="10.8" height="10.8" fill="#000"/><rect x="553.22" y="1084.18" width="10.8" height="10.8" fill="#000"/><rect x="560.18" y="1093.69" width="10.8" height="10.8" fill="#000"/><rect x="567.14" y="1103.2" width="10.8" height="10.8" fill="#000"/></g>
<text transform="translate(113.2 1143.3) scale(1.02 1.085)" font-size="22.5" font-weight="bold" text-anchor="middle">0</text>
<text transform="translate(252.42 1143.3) scale(1.02 1.085)" font-size="22.5" font-weight="bold" text-anchor="middle">20</text>
<text transform="translate(391.65 1143.3) scale(1.02 1.085)" font-size="22.5" font-weight="bold" text-anchor="middle">40</text>
<text transform="translate(530.88 1143.3) scale(1.02 1.085)" font-size="22.5" font-weight="bold" text-anchor="middle">60</text>
<text transform="translate(670.1 1143.3) scale(1.02 1.085)" font-size="22.5" font-weight="bold" text-anchor="middle">80</text>
<text transform="translate(496.6 41.1) scale(1 0.96)" font-size="27.2" font-weight="bold">Control</text>
<text x="660.2" y="410.6" font-size="27" font-weight="bold" font-style="italic" text-anchor="end">M. anisopliae</text>
<text x="659.3" y="795" font-size="26.8" font-weight="bold" font-style="italic" text-anchor="end">B. bassiana</text>
<path d="M509.2 55.3H560.3" stroke="#000" stroke-width="2.2" fill="none"/>
<path d="M529.7 55.3H539.7M534.7 50.3V60.3" stroke="#000" stroke-width="1.3" fill="none"/>
<text x="564.4" y="61.9" font-size="20.1">Egg</text>
<path d="M509.2 75.32H560.3" stroke="#000" stroke-width="2.2" fill="none"/>
<rect x="529.2" y="73.82" width="11" height="3" fill="#000"/>
<text x="564.4" y="81.92" font-size="20.1">L1</text>
<path d="M509.2 95.34H560.3" stroke="#000" stroke-width="2.2" fill="none"/>
<path d="M534.7 89.64L540.4 101.04H529Z" fill="#000"/>
<text x="564.4" y="101.94" font-size="20.1">L2</text>
<path d="M509.2 115.36H560.3" stroke="#000" stroke-width="2.2" fill="none"/>
<path d="M529.7 110.36L539.7 120.36M529.7 120.36L539.7 110.36" stroke="#000" stroke-width="1.3" fill="none"/>
<text x="564.4" y="121.96" font-size="20.1">L3</text>
<path d="M509.2 135.38H560.3" stroke="#000" stroke-width="2.2" fill="none"/>
<path d="M529.7 130.38L539.7 140.38M529.7 140.38L539.7 130.38M534.7 130.38V140.38" stroke="#000" stroke-width="1.3" fill="none"/>
<text x="564.4" y="141.98" font-size="20.1">L4</text>
<path d="M509.2 155.4H560.3" stroke="#000" stroke-width="2.2" fill="none"/>
<path d="M534.7 149.6L540.5 155.4L534.7 161.2L528.9 155.4Z" fill="#000"/>
<text x="564.4" y="162" font-size="20.1">Pupa</text>
<path d="M509.2 175.42H560.3" stroke="#000" stroke-width="2.2" fill="none"/>
<circle cx="534.7" cy="175.42" r="5.6" fill="#000"/>
<text x="564.4" y="182.02" font-size="20.1">Female</text>
<path d="M509.2 195.44H560.3" stroke="#000" stroke-width="2.2" fill="none"/>
<rect x="529.3" y="190.04" width="10.8" height="10.8" fill="#000"/>
<text x="564.4" y="202.04" font-size="20.1">Male</text>
<text x="387.3" y="1193.2" font-size="35.3" font-weight="bold" text-anchor="middle">Age (days)</text>
<text transform="translate(28.8 690) rotate(-90) scale(1.018 1)" font-size="35" font-weight="bold" fill="#262626">Survival rate (<tspan font-style="italic">s</tspan><tspan font-style="italic" font-size="24" dy="5">xj</tspan><tspan dy="-5">)</tspan></text>
</svg>
</body></html>
